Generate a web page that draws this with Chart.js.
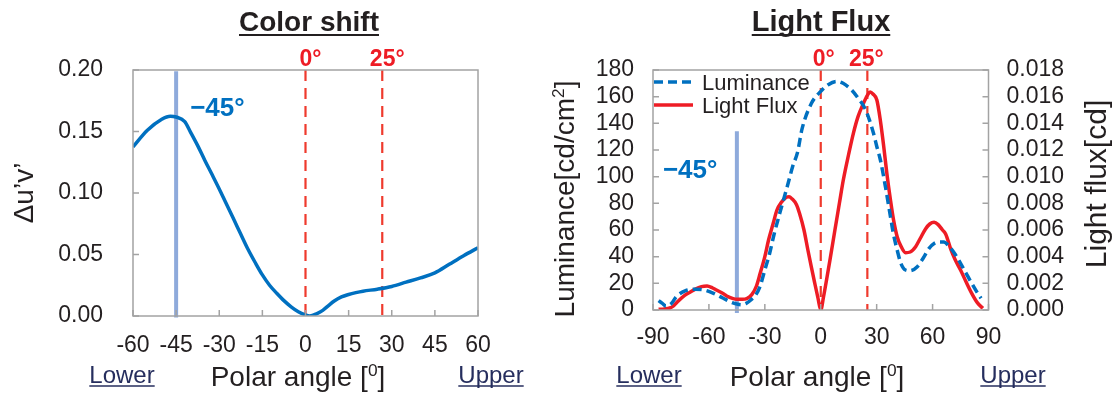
<!DOCTYPE html>
<html><head><meta charset="utf-8">
<script src="https://cdn.jsdelivr.net/npm/chart.js@4.4.1/dist/chart.umd.min.js"></script>
<style>
html,body{margin:0;padding:0;background:#fff;width:1118px;height:397px;overflow:hidden}
canvas{position:absolute;top:0}
#c1{left:0}#c2{left:540px}
</style></head><body>
<canvas id="c1" width="540" height="397"></canvas>
<canvas id="c2" width="578" height="397"></canvas>
<script>
// ---------- DATA ----------
const shiftAngles = [-60,-55,-50,-47,-45,-42,-40,-37.5,-35,-32.5,-30,-27.5,-25,-22.5,-20,-17.5,-15,-12.5,-10,-7.5,-5,-2.5,0,1.5,4,6,8,10,12.5,15,17.5,20,25,30,35,40,45,50,55,60];
const shiftValues = [0.1375,0.151,0.1600,0.1625,0.1618,0.158,0.1495,0.1385,0.1265,0.115,0.1033,0.091,0.0788,0.0665,0.0543,0.0435,0.0334,0.0250,0.0185,0.0125,0.0075,0.0035,0.0008,0.0,0.0020,0.0046,0.0085,0.0122,0.0155,0.0175,0.0190,0.0202,0.0218,0.0240,0.0275,0.0310,0.0350,0.0420,0.0490,0.0555];

const lumAngles = [-87,-85,-83,-80,-77.5,-72.5,-67.5,-62.5,-57.5,-52.5,-47.5,-45,-42.5,-40,-37.5,-35,-32.5,-30,-27.5,-25,-22.5,-20,-17.5,-15,-12.5,-10,-5,0,4,8.5,12,16.6,20,23.8,26,28.3,30,32,34.7,37.4,39,41,43,45.5,48,51.8,55,58,61,63.5,66,69,72,75,78,81,84,86];
const lumValues = [7,5,3,5,10,14.5,15.5,15,12.5,9,5.5,4.5,4,5,7.5,11,18,30,42,57,70,82.5,95,108,118,136,155,164,169,171.5,170,165,159,151,143,132.5,123,112.5,92.5,70,57,45,35,30,29.5,32.5,39,46,50,51,51,47.5,42,35,27.5,20,13,8.75];

const fluxAngles = [-87,-84,-81,-79,-77,-73,-70,-67.5,-64,-61,-58,-56,-52,-50.5,-47,-45,-42,-39.7,-37,-34.5,-32.5,-30,-28,-25.5,-23.5,-21,-18.5,-17,-15.5,-13,-11.4,-9,-6.9,-5,-3.2,-1.5,0,1.5,3.1,5,7.6,10,12.1,15,17.5,20,22.9,25,26.5,28,30.1,32,33.8,35.5,37.4,39,41,43,45.5,48,50.9,53.5,56.3,58.5,60.8,63,65.3,67,69.9,72,75,78,81,84,87];
const fluxValues = [0.00005,0.00008,0.00015,0.0003,0.0006,0.0011,0.00135,0.00155,0.00175,0.0018,0.00165,0.0015,0.0012,0.00105,0.00085,0.0008,0.0008,0.00085,0.00115,0.0018,0.00275,0.0040,0.00525,0.0065,0.0075,0.0081,0.00845,0.0085,0.00835,0.0079,0.00725,0.0060,0.0045,0.0032,0.0020,0.0009,0.0,0.0010,0.00225,0.0038,0.0060,0.0080,0.00975,0.0117,0.01325,0.0145,0.0155,0.0161,0.01635,0.0162,0.01575,0.0142,0.01225,0.0102,0.00825,0.0068,0.0055,0.0048,0.0043,0.00435,0.00475,0.0054,0.0061,0.00645,0.006575,0.0064,0.0060,0.0057,0.0045,0.0038,0.0030,0.0021,0.00125,0.00055,0.000125];

const shiftXTicks = {min:-60, max:60, step:15};
const shiftYTicks = {min:0, max:0.20, step:0.05};
const fluxXTicks = {min:-90, max:90, step:30};
const lumYTicks = {min:0, max:180, step:20};
const fluxYTicks = {min:0, max:0.018, step:0.002};

const refAngle = -45;                   // blue reference line
const shiftMarkers = [0, 26.7];         // red dashed lines (left chart)
const fluxMarkers = [0, 25];            // red dashed lines (right chart)
const markerLabels = ['0°','25°'];

// ---------- STYLE ----------
const FONT = '"Liberation Sans", Arial, Helvetica, sans-serif';
const TXT = '#231f20';
const NAVY = '#262e5e';
const BLUE = '#0070c0';
const RED = '#ee1c25';
const REDDASH = '#ef3a2d';
const REFBLUE = '#8eaadb';
const FRAME = '#a3a3a3';

function richWidth(ctx, parts, size, bold){
  let w=0;
  for(const p of parts){
    ctx.font = (bold?'bold ':'') + (p.sup? size*0.62 : size) + 'px ' + FONT;
    w += ctx.measureText(p.t).width;
  }
  return w;
}
function rich(ctx, parts, x, y, o){
  const size=o.size||20, bold=!!o.bold, align=o.align||'center', rot=o.rot||0;
  ctx.save();
  ctx.translate(x,y); ctx.rotate(rot);
  ctx.fillStyle=o.color||TXT; ctx.textBaseline='alphabetic'; ctx.textAlign='left';
  const w=richWidth(ctx,parts,size,bold);
  let cx = align==='center' ? -w/2 : (align==='right' ? -w : 0);
  const start=cx;
  for(const p of parts){
    ctx.font = (bold?'bold ':'') + (p.sup? size*0.62 : size) + 'px ' + FONT;
    ctx.fillText(p.t, cx, p.sup ? -size*0.36 : 0);
    cx += ctx.measureText(p.t).width;
  }
  if(o.underline){
    ctx.strokeStyle=o.color||TXT; ctx.lineWidth=o.ulw||1.5;
    ctx.beginPath(); ctx.moveTo(start, o.uly||3); ctx.lineTo(start+w, o.uly||3); ctx.stroke();
  }
  ctx.restore();
}
function frameAndTicks(chart, yIds){
  const {ctx, chartArea:a, scales} = chart;
  ctx.save();
  ctx.strokeStyle=FRAME; ctx.lineWidth=1.5;
  ctx.strokeRect(a.left, a.top, a.right-a.left, a.bottom-a.top);
  ctx.beginPath();
  const xs=scales.x;
  for(const t of xs.ticks){ const px=xs.getPixelForValue(t.value); ctx.moveTo(px,a.bottom); ctx.lineTo(px,a.bottom-6); }
  for(const id of yIds){
    const s=scales[id];
    for(const t of s.ticks){
      const py=s.getPixelForValue(t.value);
      if(s.position==='left'){ ctx.moveTo(a.left,py); ctx.lineTo(a.left+6,py); }
      else { ctx.moveTo(a.right,py); ctx.lineTo(a.right-6,py); }
    }
  }
  ctx.stroke();
  ctx.restore();
}
function vline(ctx, px, y0, y1, color, w, dash){
  ctx.save(); ctx.strokeStyle=color; ctx.lineWidth=w; ctx.setLineDash(dash||[]);
  ctx.beginPath(); ctx.moveTo(px,y0); ctx.lineTo(px,y1); ctx.stroke(); ctx.restore();
}

const tickFont = {family: FONT, size: 23};

// ---------- LEFT CHART ----------
const leftDeco = {
  id:'leftDeco',
  beforeDatasetsDraw(chart){
    const {ctx, chartArea:a, scales:{x,y}} = chart;
    vline(ctx, x.getPixelForValue(refAngle), y.getPixelForValue(0.199), a.bottom+1.5, REFBLUE, 4);
    for(const m of shiftMarkers) vline(ctx, x.getPixelForValue(m), a.top, a.bottom, REDDASH, 2.2, [11,7]);
  },
  afterDraw(chart){
    const {ctx, chartArea:a, scales:{x,y}} = chart;
    frameAndTicks(chart, ['y']);
    rich(ctx, [{t:'Color shift'}], 309, 31, {size:28, bold:true, underline:true, uly:4, ulw:2});
    shiftMarkers.forEach((m,i)=>{
      rich(ctx, [{t:markerLabels[i]}], x.getPixelForValue(m)+5, 66, {size:23, bold:true, color:RED});
    });
    rich(ctx, [{t:'\u221245°'}], x.getPixelForValue(refAngle)+14, 116, {size:26, bold:true, color:BLUE, align:'left'});
    rich(ctx, [{t:'Polar angle ['},{t:'0',sup:true},{t:']'}], 298, 386, {size:28});
    rich(ctx, [{t:'Lower'}], 122, 383, {size:24, color:NAVY, underline:true, uly:3, ulw:1.3});
    rich(ctx, [{t:'Upper'}], 491, 383, {size:24, color:NAVY, underline:true, uly:3, ulw:1.3});
    rich(ctx, [{t:'\u0394u\u2019v\u2019'}], 33, (a.top+a.bottom)/2, {size:28, rot:-Math.PI/2});
  }
};

new Chart(document.getElementById('c1'), {
  type:'line',
  data:{datasets:[{
    data: shiftAngles.map((a,i)=>({x:a, y:shiftValues[i]})),
    borderColor:BLUE, borderWidth:3.5, pointRadius:0, fill:false,
    cubicInterpolationMode:'monotone'
  }]},
  options:{
    responsive:false, animation:false, devicePixelRatio:1,
    layout:{padding:{top:70, right:62, left:0, bottom:0}},
    plugins:{legend:{display:false}, tooltip:{enabled:false}, title:{display:false}},
    scales:{
      x:{type:'linear', min:shiftXTicks.min, max:shiftXTicks.max,
         ticks:{stepSize:shiftXTicks.step, font:tickFont, color:TXT, padding:16, maxRotation:0, autoSkip:false},
         grid:{display:false, drawTicks:false}, border:{display:false},
         afterFit:s=>{s.height=81;}},
      y:{type:'linear', min:shiftYTicks.min, max:shiftYTicks.max,
         ticks:{stepSize:shiftYTicks.step, font:tickFont, color:TXT, padding:30, autoSkip:false, callback:v=>v.toFixed(2)},
         grid:{display:false, drawTicks:false}, border:{display:false},
         afterFit:s=>{s.width=133;}}
    }
  },
  plugins:[leftDeco]
});

// ---------- RIGHT CHART ----------
const rightDeco = {
  id:'rightDeco',
  beforeDatasetsDraw(chart){
    const {ctx, chartArea:a, scales:{x,y}} = chart;
    vline(ctx, x.getPixelForValue(refAngle), y.getPixelForValue(134), a.bottom+3, REFBLUE, 4);
    for(const m of fluxMarkers) vline(ctx, x.getPixelForValue(m), a.top, a.bottom, REDDASH, 2.2, [11,7]);
  },
  afterDraw(chart){
    const {ctx, chartArea:a, scales:{x,y}} = chart;
    frameAndTicks(chart, ['y','y2']);
    rich(ctx, [{t:'Light Flux'}], 281, 31, {size:29, bold:true, underline:true, uly:4, ulw:2});
    const offs=[3,-1];
    fluxMarkers.forEach((m,i)=>{
      rich(ctx, [{t:markerLabels[i]}], x.getPixelForValue(m)+offs[i], 66, {size:23, bold:true, color:RED});
    });
    rich(ctx, [{t:'\u221245°'}], x.getPixelForValue(refAngle)-74, 178, {size:26, bold:true, color:BLUE, align:'left'});
    // legend
    ctx.save();
    ctx.lineWidth=3.5; ctx.strokeStyle=BLUE; ctx.setLineDash([9,5]);
    ctx.beginPath(); ctx.moveTo(a.left+1, 82); ctx.lineTo(a.left+40, 82); ctx.stroke();
    ctx.setLineDash([]); ctx.strokeStyle=RED;
    ctx.beginPath(); ctx.moveTo(a.left+1, 105); ctx.lineTo(a.left+40, 105); ctx.stroke();
    ctx.restore();
    rich(ctx, [{t:'Luminance'}], a.left+49, 90, {size:22, align:'left'});
    rich(ctx, [{t:'Light Flux'}], a.left+49, 113, {size:22, align:'left'});
    rich(ctx, [{t:'Polar angle ['},{t:'0',sup:true},{t:']'}], 277, 386, {size:28});
    rich(ctx, [{t:'Lower'}], 109, 383, {size:24, color:NAVY, underline:true, uly:3, ulw:1.3});
    rich(ctx, [{t:'Upper'}], 473, 383, {size:24, color:NAVY, underline:true, uly:3, ulw:1.3});
    rich(ctx, [{t:'Luminance[cd/cm'},{t:'2',sup:true},{t:']'}], 34, 199, {size:28, rot:-Math.PI/2});
    rich(ctx, [{t:'Light flux[cd]'}], 566, 184, {size:30, rot:-Math.PI/2});
  }
};

new Chart(document.getElementById('c2'), {
  type:'line',
  data:{datasets:[
    {label:'Luminance', yAxisID:'y',
     data: lumAngles.map((a,i)=>({x:a, y:lumValues[i]})),
     borderColor:BLUE, borderWidth:3.5, borderDash:[9,5], pointRadius:0, fill:false,
     cubicInterpolationMode:'monotone'},
    {label:'Light Flux', yAxisID:'y2',
     data: fluxAngles.map((a,i)=>({x:a, y:fluxValues[i]})),
     borderColor:RED, borderWidth:3.5, pointRadius:0, fill:false,
     cubicInterpolationMode:'monotone'}
  ]},
  options:{
    responsive:false, animation:false, devicePixelRatio:1,
    layout:{padding:{top:70, right:0, left:0, bottom:0}},
    plugins:{legend:{display:false}, tooltip:{enabled:false}, title:{display:false}},
    scales:{
      x:{type:'linear', min:fluxXTicks.min, max:fluxXTicks.max,
         ticks:{stepSize:fluxXTicks.step, font:tickFont, color:TXT, padding:14, maxRotation:0, autoSkip:false},
         grid:{display:false, drawTicks:false}, border:{display:false},
         afterFit:s=>{s.height=87;}},
      y:{type:'linear', position:'left', min:lumYTicks.min, max:lumYTicks.max,
         ticks:{stepSize:lumYTicks.step, font:tickFont, color:TXT, padding:19, autoSkip:false},
         grid:{display:false, drawTicks:false}, border:{display:false},
         afterFit:s=>{s.width=113;}},
      y2:{type:'linear', position:'right', min:fluxYTicks.min, max:fluxYTicks.max,
         ticks:{stepSize:fluxYTicks.step, font:tickFont, color:TXT, padding:18, autoSkip:false, callback:v=>v.toFixed(3)},
         grid:{display:false, drawTicks:false}, border:{display:false},
         afterFit:s=>{s.width=129.5;}}
    }
  },
  plugins:[rightDeco]
});
</script>
</body></html>
